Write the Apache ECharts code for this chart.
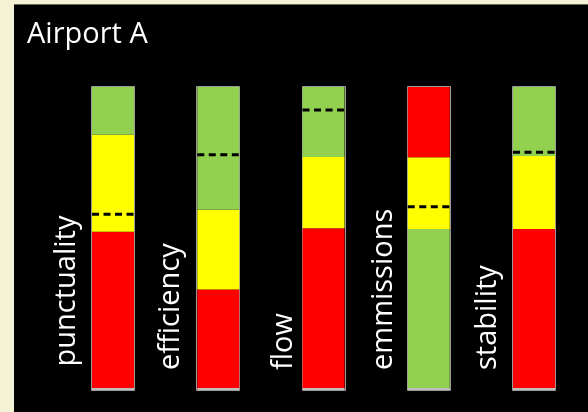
<!DOCTYPE html>
<html>
<head>
<meta charset="utf-8">
<script src="https://cdn.jsdelivr.net/npm/echarts@6/dist/echarts.min.js"></script>
<style>
  html, body { margin: 0; padding: 0; background: #f5f3d6; }
  #chart { width: 588px; height: 412px; }
</style>
</head>
<body>
<div id="chart"></div>
<script>
// ---- data (each bar is 100% tall) ----
const categories   = ['punctuality', 'efficiency', 'flow', 'emmissions', 'stability'];
const bottomValues = [52.2, 33.2, 53.4, 53.1, 53.1];
const middleValues = [32.0, 26.3, 23.5, 23.7, 24.1];
const topValues    = [15.8, 40.5, 23.1, 23.2, 22.8];
const bottomLevels = ['red', 'red', 'red', 'green', 'red'];
const middleLevels = ['yellow', 'yellow', 'yellow', 'yellow', 'yellow'];
const topLevels    = ['green', 'green', 'green', 'red', 'green'];
const targetValues = [58.0, 77.6, 92.4, 60.5, 78.5];

// ---- styles ----
const levelColor = { green: '#92d050', yellow: '#ffff00', red: '#ff0000' };
const BAR_W = 42;
const labelShift = [-46, -47.5, -40, -45.5, -46.5];   // px left of bar centre
const labelLift  = [23.5, 20, 20, 20, 20];             // px above bar bottom

const chart = echarts.init(document.getElementById('chart'), null, { renderer: 'canvas' });

function barSeries(name, values, levels) {
  return {
    name: name,
    type: 'bar',
    stack: 'level',
    barWidth: BAR_W,
    z: 3,
    silent: true,
    data: values.map((v, i) => ({ value: v, itemStyle: { color: levelColor[levels[i]] } }))
  };
}

const option = {
  backgroundColor: '#f5f3d6',
  animation: false,
  title: {
    text: 'Airport A',
    left: 27,
    top: 20,
    padding: 0,
    textStyle: { color: '#ffffff', fontSize: 29, fontWeight: 'normal', fontFamily: '"Open Sans"' }
  },
  graphic: {
    elements: [
      { type: 'rect', left: 14, top: 5, z: -10, silent: true,
        shape: { width: 574, height: 407 }, style: { fill: '#000000' } },
      { type: 'rect', left: 14, top: 4, z: -9, silent: true,
        shape: { width: 574, height: 1 }, style: { fill: '#6b6a55' } }
    ]
  },
  grid: { left: 60.4, width: 526.25, top: 87, height: 303 },
  xAxis: {
    type: 'category',
    data: categories,
    show: false
  },
  yAxis: {
    type: 'value',
    min: 0,
    max: 100,
    show: false
  },
  series: [
    // grey frame behind each bar
    {
      type: 'custom',
      z: 2,
      silent: true,
      data: categories.map((c, i) => [i, 100]),
      renderItem: function (params, api) {
        const i = api.value(0);
        const top = api.coord([i, api.value(1)]);
        const bot = api.coord([i, 0]);
        const x0 = Math.round(top[0] - BAR_W / 2);
        return {
          type: 'rect',
          shape: { x: x0 - 0.5, y: top[1] - 0.5, width: BAR_W + 1, height: bot[1] - top[1] + 1 },
          style: { fill: null, stroke: '#9a9a9a', lineWidth: 1 }
        };
      }
    },
    barSeries('bottom', bottomValues, bottomLevels),
    barSeries('middle', middleValues, middleLevels),
    barSeries('top', topValues, topLevels),
    // grey base line at bar bottom
    {
      type: 'custom',
      z: 4,
      silent: true,
      data: categories.map((c, i) => [i, 0]),
      renderItem: function (params, api) {
        const i = api.value(0);
        const p = api.coord([i, api.value(1)]);
        return {
          type: 'line',
          shape: { x1: p[0] - BAR_W / 2, y1: p[1] - 1, x2: p[0] + BAR_W / 2, y2: p[1] - 1 },
          style: { stroke: '#bdbdbd', lineWidth: 2 }
        };
      }
    },
    // dashed target lines
    {
      type: 'custom',
      z: 5,
      silent: true,
      data: categories.map((c, i) => [i, targetValues[i]]),
      renderItem: function (params, api) {
        const i = api.value(0);
        const p = api.coord([i, api.value(1)]);
        return {
          type: 'line',
          shape: { x1: p[0] - BAR_W / 2, y1: p[1], x2: p[0] + BAR_W / 2 + 1, y2: p[1] },
          style: { stroke: '#000000', lineWidth: 3, lineDash: [7, 4.5] }
        };
      }
    },
    // rotated category labels
    {
      type: 'custom',
      z: 6,
      silent: true,
      data: categories.map((c, i) => [i, 0]),
      renderItem: function (params, api) {
        const i = api.value(0);
        const p = api.coord([i, api.value(1)]);
        return {
          type: 'text',
          x: p[0] + labelShift[i],
          y: p[1] - labelLift[i],
          rotation: Math.PI / 2,
          style: {
            text: categories[i],
            fill: '#ffffff',
            font: '29px "Open Sans"',
            align: 'left',
            verticalAlign: 'middle'
          }
        };
      }
    }
  ]
};

chart.setOption(option);
</script>
</body>
</html>
